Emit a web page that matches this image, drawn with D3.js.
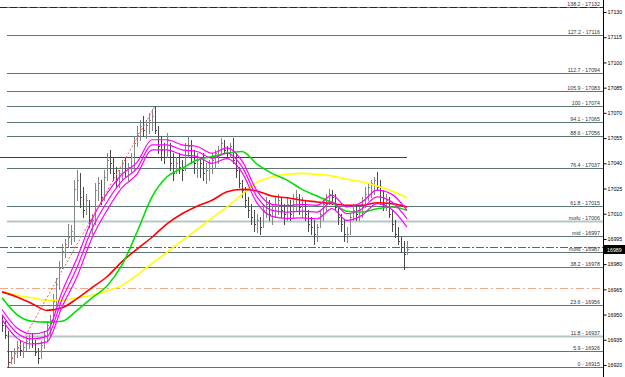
<!DOCTYPE html>
<html>
<head>
<meta charset="utf-8">
<script src="https://cdn.jsdelivr.net/npm/d3@7"></script>
<style>
body { margin: 0; background: #fff; }
svg { display: block; }
text { font-family: "Liberation Sans", Arial, sans-serif; }
</style>
</head>
<body>
<div id="chart"></div>
<script>
// OHLC bars (one every bar index), prices
var barHigh = [16950,16946,16940,16928,16930,16934,16935,16933,16937,16938,16939,16935,16930,16934,16940,16946,16950,16962,16972,16982,
  16992,16995,17004,17003,17030,17036,17034,17026,17022,17018,17010,17028,17032,17030,17036,17046,17048,17044,17038,17036,
  17042,17044,17040,17046,17056,17062,17066,17068,17066,17070,17072,17074,17062,17056,17052,17058,17052,17046,17044,17046,
  17042,17052,17056,17054,17048,17046,17044,17046,17040,17042,17046,17048,17050,17055,17054,17050,17052,17055,17046,17038,
  17030,17026,17020,17016,17012,17010,17008,17016,17020,17018,17016,17020,17022,17020,17016,17020,17018,17022,17024,17022,
  17020,17018,17012,17008,17006,17004,17012,17018,17022,17025,17024,17022,17014,17010,17006,17002,17010,17016,17016,17014,
  17020,17026,17028,17030,17032,17035,17030,17024,17022,17020,17012,17006,17002,16996,16994,16994];
var barLow = [16940,16936,16919,16921,16921,16925,16926,16925,16929,16930,16931,16926,16921,16924,16930,16935,16938,16945,16955,16965,
  16978,16984,16990,16992,16994,17018,17014,17008,17010,17002,16998,17004,17018,17016,17018,17030,17034,17030,17026,17026,
  17030,17032,17030,17034,17036,17050,17054,17056,17055,17058,17060,17058,17046,17042,17040,17044,17036,17030,17034,17034,
  17030,17036,17044,17040,17034,17032,17032,17030,17028,17030,17034,17038,17040,17046,17046,17044,17044,17040,17032,17026,
  17020,17014,17008,17004,17000,16999,16998,17002,17008,17006,17004,17008,17010,17008,17004,17006,17006,17008,17012,17010,
  17008,17006,17000,16998,16992,16994,17002,17006,17012,17016,17016,17012,17004,17000,16994,16993,16998,17006,17006,17006,
  17008,17014,17018,17020,17022,17024,17016,17012,17012,17008,17000,16996,16992,16987,16977,16986];
var barOpen = [16946,16944,16938,16922,16925,16927,16931,16929,16931,16934,16936,16933,16928,16924,16932,16938,16944,16947,16958,16968,
  16978,16988,16992,16996,17000,17025,17030,17020,17012,17018,17006,17006,17024,17028,17020,17032,17042,17040,17034,17030,
  17034,17040,17036,17038,17044,17052,17058,17062,17060,17063,17066,17068,17060,17050,17048,17044,17050,17040,17034,17040,
  17038,17036,17048,17050,17044,17040,17042,17040,17034,17036,17040,17042,17046,17048,17052,17048,17046,17050,17042,17036,
  17028,17024,17018,17012,17008,17004,17006,17002,17012,17016,17010,17012,17016,17018,17012,17010,17016,17010,17016,17020,
  17014,17016,17010,17004,17002,16998,17002,17010,17016,17020,17022,17020,17014,17008,17004,16998,16998,17008,17012,17010,
  17012,17018,17022,17026,17028,17030,17026,17020,17016,17018,17010,17004,16998,16994,16990,16986];
var barClose = [16944,16938,16922,16925,16927,16931,16929,16931,16934,16936,16933,16928,16924,16932,16938,16944,16947,16958,16968,16978,
  16988,16992,16996,17000,17025,17030,17020,17012,17018,17006,17006,17024,17028,17020,17032,17042,17040,17034,17030,17034,
  17040,17036,17038,17044,17052,17058,17062,17060,17063,17066,17068,17060,17050,17048,17044,17054,17040,17034,17040,17038,
  17036,17048,17050,17044,17040,17042,17040,17034,17036,17040,17042,17046,17048,17052,17048,17046,17050,17042,17036,17028,
  17024,17018,17012,17008,17004,17006,17002,17012,17016,17010,17012,17016,17018,17012,17010,17016,17010,17016,17020,17014,
  17016,17010,17004,17002,16998,17002,17010,17016,17020,17022,17020,17014,17008,17004,16998,16998,17008,17012,17010,17012,
  17018,17022,17026,17028,17030,17026,17020,17016,17018,17010,17004,16998,16994,16990,16986,16989];

// moving averages, one value every 5 bars
var maStep = 5;
var maMagenta = [16950,16939,16935.5,16937,16959,16978,17001,17017,17029.5,17037,17051,17051,17048,17047,17043,17046,17038,17020,17012,17011,17011.5,17011,17017,17010,17013,17020,17017,17007];
var maBand = [3,3,3,3.2,4.5,5.5,5.5,5,4,3.5,3,3,3,3,3,3.2,3.4,3.6,3.6,3.8,4,4,4,4,4,4,4.5,5];
var maGreen = [16960,16950,16946,16945.5,16946,16952.5,16960,16967,16979.5,16999,17020,17032,17037,17042,17044,17046,17047,17039.5,17034,17030,17024.5,17020.5,17016.5,17011.5,17011,17013,17014,17012];
var maRed = [16963.5,16960.5,16956.5,16952.5,16954,16959.5,16966,16972.5,16981.5,16989,16996,17004,17010,17014.5,17018,17023,17024.5,17023.5,17020.5,17019.5,17018,17017,17016,17015,17015,17016.5,17016,17014];
var maYellow = [16963.5,16961.5,16960,16958.5,16958.5,16960,16961.5,16964,16967.5,16973.5,16980.5,16987,16994,17000.5,17007.5,17014,17021.5,17028.5,17032,17033.5,17034,17033.5,17032.5,17030.5,17029,17026.5,17023.5,17019.5];

// fibonacci tool
var fibLow = 16919, fibHigh = 17074, fibLowBar = 2, fibHighBar = 51;
var fibRatios = [138.2,127.2,112.7,105.9,100,94.1,88.6,76.4,61.8,55.9,50,44.1,38.2,23.6,11.8,5.9,0];
var fibNames = ["138.2","127.2","112.7","105.9","100","94.1","88.6","76.4","61.8","mofu","mid","mofd","38.2","23.6","11.8","5.9","0"];
var fibPrices = [17132,17116,17094,17083,17074,17065,17056,17037,17015,17006,16997,16987,16978,16956,16937,16926,16915];
var fibLight = ["mofu","11.8"];

// other horizontal lines and price axis
var redLevel = 17044, orangeLevel = 16966, darkRedLevel = 17133, bidPrice = 16989;
var priceTicks = [17130,17115,17100,17085,17070,17055,17040,17025,17010,16995,16980,16965,16950,16935,16920];

var W = 625, H = 377, axisX = 603;
var svg = d3.select("#chart").append("svg").attr("width", W).attr("height", H);

var x = d3.scaleLinear().domain([0, barHigh.length - 1]).range([2, 407]);
var y = d3.scaleLinear().domain([16920, 17130]).range([365, 12]);
function py(p) { return Math.round(y(p)) + 0.5; }
function fibPrice(r) { return fibLow + (fibHigh - fibLow) * r / 100; }

// fib levels
var fib = svg.append("g");
fibRatios.forEach(function (r, i) {
    var yy = py(fibPrice(r));
    var light = fibLight.indexOf(fibNames[i]) >= 0;
    fib.append("line")
        .attr("x1", x(fibLowBar) - 1).attr("x2", axisX)
        .attr("y1", yy).attr("y2", yy)
        .attr("stroke", light ? "#b8c6c6" : "#5e7676")
        .attr("stroke-width", light ? 2 : 1);
    fib.append("text")
        .attr("x", axisX - 3).attr("y", yy - 1.5)
        .attr("text-anchor", "end")
        .style("font-size", "5.3px")
        .attr("fill", "#333")
        .text(fibNames[i] + " - " + fibPrices[i]);
});

// top dark red dashed line
svg.append("line")
    .attr("x1", 0).attr("x2", axisX)
    .attr("y1", py(darkRedLevel)).attr("y2", py(darkRedLevel))
    .attr("stroke", "#7a0000").attr("stroke-width", 1)
    .attr("stroke-dasharray", "7,3");

// red horizontal line
svg.append("line")
    .attr("x1", 0).attr("x2", x(barHigh.length - 1))
    .attr("y1", py(redLevel)).attr("y2", py(redLevel))
    .attr("stroke", "#cc0000").attr("stroke-width", 1.2);

// orange dash-dot
svg.append("line")
    .attr("x1", 0).attr("x2", axisX - 3)
    .attr("y1", py(orangeLevel)).attr("y2", py(orangeLevel))
    .attr("stroke", "#f4a58a").attr("stroke-width", 1)
    .attr("stroke-dasharray", "8,3,2,3");

// green dash-dot (bid)
svg.append("line")
    .attr("x1", 0).attr("x2", axisX)
    .attr("y1", py(bidPrice) - 2).attr("y2", py(bidPrice) - 2)
    .attr("stroke", "#00a800").attr("stroke-width", 1.2)
    .attr("stroke-dasharray", "8,2,2,2");

// bars
var bars = svg.append("g").attr("shape-rendering", "crispEdges");
barHigh.forEach(function (h, i) {
    var bx = Math.round(x(i)) + 0.5;
    var col = barClose[i] >= barOpen[i] ? "#858585" : "#4a4a4a";
    var yo = Math.round(y(barOpen[i])) + 0.5, yc = Math.round(y(barClose[i])) + 0.5;
    bars.append("line").attr("x1", bx).attr("x2", bx)
        .attr("y1", y(h)).attr("y2", y(barLow[i]) + 1).attr("stroke", col);
    bars.append("line").attr("x1", bx - 1).attr("x2", bx)
        .attr("y1", yo).attr("y2", yo).attr("stroke", col);
    bars.append("line").attr("x1", bx).attr("x2", bx + 1)
        .attr("y1", yc).attr("y2", yc).attr("stroke", col);
});

// moving averages
var maLine = d3.line()
    .x(function (d, k) { return x(k * maStep); })
    .y(function (d) { return y(d); })
    .curve(d3.curveMonotoneX);

svg.append("path").attr("d", maLine(maYellow)).attr("fill", "none")
    .attr("stroke", "#ffff00").attr("stroke-width", 1.6);
svg.append("path").attr("d", maLine(maRed)).attr("fill", "none")
    .attr("stroke", "#ff0000").attr("stroke-width", 1.6);
svg.append("path").attr("d", maLine(maGreen)).attr("fill", "none")
    .attr("stroke", "#00e000").attr("stroke-width", 1.6);
[1, 0, -1].forEach(function (s) {
    var pts = maMagenta.map(function (m, k) { return m + s * maBand[k]; });
    svg.append("path").attr("d", maLine(pts)).attr("fill", "none")
        .attr("stroke", "#ff00ff").attr("stroke-width", 1.2);
});

// fib trend line (dotted)
svg.append("line")
    .attr("x1", x(fibLowBar)).attr("y1", y(fibLow))
    .attr("x2", x(fibHighBar)).attr("y2", y(fibHigh))
    .attr("stroke", "#ff5a5a").attr("stroke-width", 1)
    .attr("stroke-dasharray", "2,2");

// price axis
var axis = d3.axisRight(y).tickValues(priceTicks).tickSize(3).tickFormat(d3.format("d"));
var gAxis = svg.append("g").attr("transform", "translate(" + (axisX + 0.5) + ",0)").call(axis);
gAxis.select(".domain").remove();
gAxis.selectAll("text").style("font-size", "5.3px").attr("fill", "#000").attr("x", 4);
gAxis.selectAll(".tick line").attr("stroke", "#000");
svg.append("line").attr("x1", axisX + 0.5).attr("x2", axisX + 0.5)
    .attr("y1", 0).attr("y2", H).attr("stroke", "#000");

// current price box
var by = py(bidPrice);
svg.append("rect").attr("x", axisX + 1).attr("y", by - 4.5)
    .attr("width", 21).attr("height", 9).attr("fill", "#000");
svg.append("text").attr("x", axisX + 4).attr("y", by + 2)
    .style("font-size", "5.3px").attr("fill", "#fff").text(bidPrice);
</script>
</body>
</html>
